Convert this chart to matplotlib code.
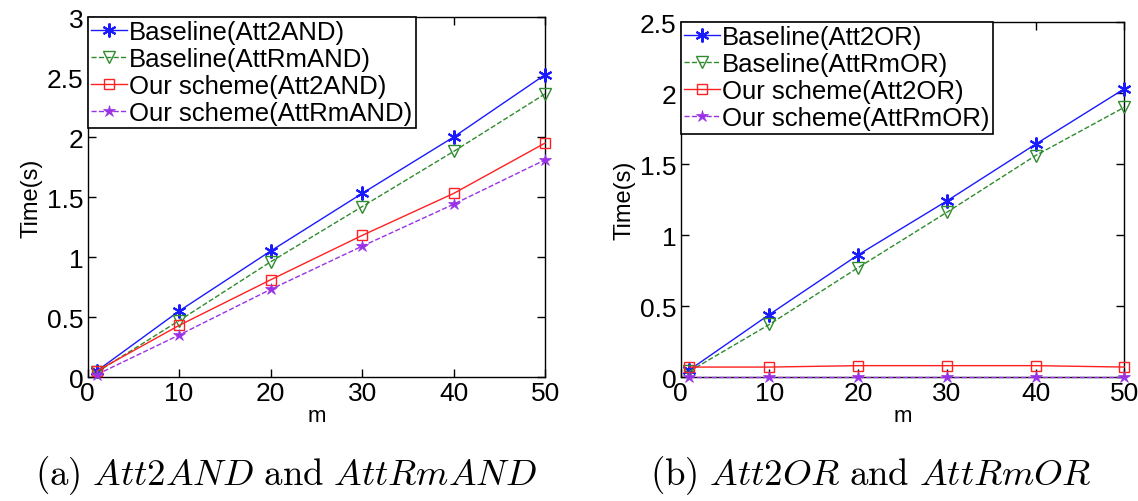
import numpy as np
import matplotlib
matplotlib.use("Agg")
import matplotlib.pyplot as plt
from matplotlib.ticker import FormatStrFormatter

m = [1, 10, 20, 30, 40, 50]

# (a) AND policies
base_att2and = [0.05, 0.55, 1.05, 1.53, 2.00, 2.52]
base_attrmand = [0.04, 0.47, 0.96, 1.42, 1.88, 2.36]
our_att2and = [0.05, 0.43, 0.81, 1.18, 1.53, 1.95]
our_attrmand = [0.02, 0.35, 0.73, 1.09, 1.44, 1.81]

# (b) OR policies
base_att2or = [0.05, 0.44, 0.86, 1.24, 1.64, 2.03]
base_attrmor = [0.04, 0.37, 0.77, 1.16, 1.56, 1.90]
our_att2or = [0.07, 0.07, 0.08, 0.08, 0.08, 0.07]
our_attrmor = [0.0, 0.0, 0.0, 0.0, 0.0, 0.0]

labels_a = ["Baseline(Att2AND)", "Baseline(AttRmAND)", "Our scheme(Att2AND)", "Our scheme(AttRmAND)"]
labels_b = ["Baseline(Att2OR)", "Baseline(AttRmOR)", "Our scheme(Att2OR)", "Our scheme(AttRmOR)"]

plt.rcParams['font.family'] = ['Liberation Sans', 'DejaVu Sans']
plt.rcParams['mathtext.fontset'] = 'cm'

styles = [
    dict(color='#1a1aff', ls='-', marker=(6, 2, 0), ms=10, mew=1.5),
    dict(color='#2e8b2e', ls='--', marker='v', ms=8, mfc='none', mew=1.0),
    dict(color='#ff2020', ls='-', marker='s', ms=7, mfc='none', mew=1.0),
    dict(color='#9932e6', ls='--', marker='*', ms=9, mew=0.5),
]


def draw(ax, series, labels, ymax):
    for ys, lab, st in zip(series, labels, styles):
        ax.plot(m, ys, label=lab, lw=1.0, clip_on=False, zorder=3, **st)
    ax.set_xlim(0, 50)
    ax.set_ylim(0, ymax)
    ax.set_xticks(np.arange(0, 51, 10))
    ax.set_yticks(np.arange(0, ymax + 0.01, 0.5))
    ax.yaxis.set_major_formatter(FormatStrFormatter('%g'))
    ax.tick_params(direction='in', top=True, right=True, labelsize=19, length=6, width=1, pad=3)
    ax.set_xlabel("m", fontsize=16, labelpad=0)
    ax.set_ylabel("Time(s)", fontsize=17, labelpad=3)
    for sp in ax.spines.values():
        sp.set_linewidth(1.0)
    leg = ax.legend(loc='upper left', fontsize=18.5, fancybox=False, framealpha=1,
                    edgecolor='black', borderaxespad=0, borderpad=0.12,
                    labelspacing=0.12, handlelength=1.4, handletextpad=0.1)
    leg.get_frame().set_linewidth(1.2)
    leg.set_zorder(5)


fig = plt.figure(figsize=(11.38, 5.02), dpi=100)
ax1 = fig.add_axes([0.077, 0.247, 0.402, 0.717])
ax2 = fig.add_axes([0.598, 0.247, 0.390, 0.707])

draw(ax1, [base_att2and, base_attrmand, our_att2and, our_attrmand], labels_a, 3)
draw(ax2, [base_att2or, base_attrmor, our_att2or, our_attrmor], labels_b, 2.5)

fig.text(0.251, 0.052, r"$\mathrm{(a)}\ Att2AND\ \mathrm{and}\ AttRmAND$", fontsize=26.5,
         ha='center', va='center')
fig.text(0.765, 0.052, r"$\mathrm{(b)}\ Att2OR\ \mathrm{and}\ AttRmOR$", fontsize=26.5,
         ha='center', va='center')

fig.savefig("out.png", dpi=100)
